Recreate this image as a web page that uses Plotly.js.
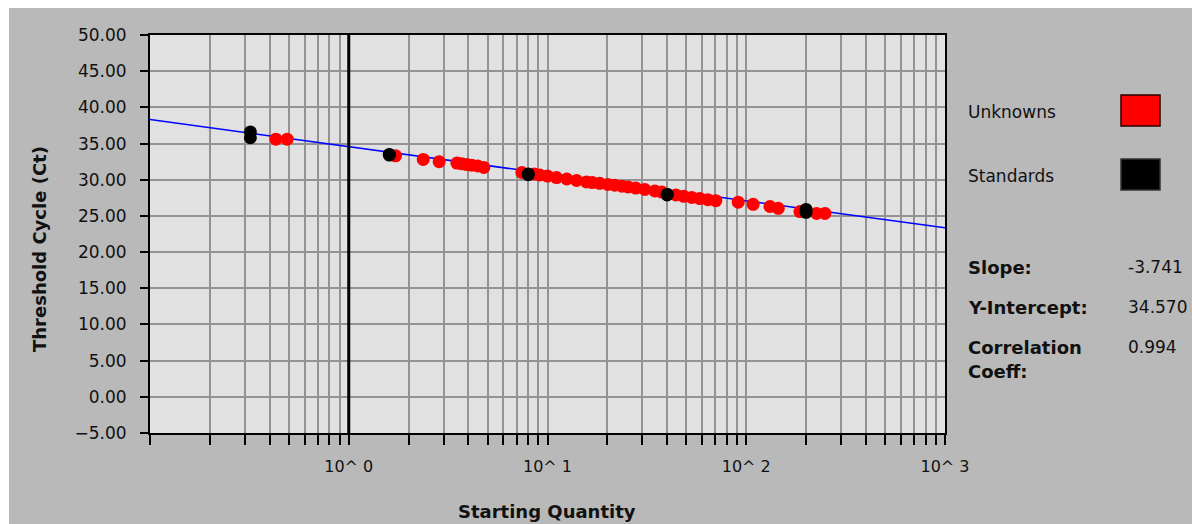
<!DOCTYPE html>
<html>
<head>
<meta charset="utf-8">
<script src="https://cdn.plot.ly/plotly-3.0.1.min.js"></script>
<style>
  html, body { margin: 0; padding: 0; background: #ffffff; width: 1192px; height: 524px; overflow: hidden; }
  #chart { position: absolute; left: 9px; top: 8px; width: 1183px; height: 516px; }
</style>
</head>
<body>
<div id="chart"></div>
<script>
// Standard curve: starting quantity vs threshold cycle
const standardQty = [0.32, 0.32, 1.6, 1.6, 8, 8, 40, 40, 200, 200];
const standardCt  = [36.6, 35.8, 33.5, 33.4, 30.8, 30.7, 28.0, 27.9, 25.9, 25.5];

const unknownQty = [0.43, 0.49, 1.72, 2.37, 2.85, 3.50, 3.70, 3.92, 4.16, 4.46, 4.78,
                    7.43, 8.6, 9.15, 10.0, 11.1, 12.5, 14.0, 15.7, 16.8, 18.3, 20.1,
                    21.8, 23.7, 25.4, 27.8, 30.9, 34.7, 37.6, 44.3, 48.5, 53.2, 58.4,
                    64.1, 70.3, 91.1, 108.3, 131.6, 144.9, 186.2, 225.8, 248.8];
const unknownCt  = [35.6, 35.6, 33.3, 32.8, 32.5, 32.3, 32.2, 32.1, 32.0, 31.9, 31.7,
                    31.0, 30.8, 30.65, 30.5, 30.3, 30.1, 29.9, 29.7, 29.6, 29.5, 29.35,
                    29.25, 29.1, 29.0, 28.85, 28.65, 28.45, 28.3, 27.9, 27.7, 27.55, 27.4,
                    27.25, 27.1, 26.9, 26.6, 26.3, 26.05, 25.6, 25.35, 25.35];

const slope = -3.741;
const intercept = 34.570;
const correlation = 0.994;

const xRange = [0.1, 1000];
const yRange = [-5, 50];
const decades = [-1, 0, 1, 2, 3];

// log-axis ticks at every 1..9 multiple, labelled only at whole decades >= 10^0
const tickVals = [], tickText = [];
decades.forEach(function (d) {
  const mults = d === 3 ? [1] : [1, 2, 3, 4, 5, 6, 7, 8, 9];
  mults.forEach(function (m) {
    tickVals.push(m * Math.pow(10, d));
    tickText.push(m === 1 && d >= 0 ? '10^ ' + d : '');
  });
});

const fitX = xRange.slice();
const fitY = fitX.map(function (q) { return intercept + slope * Math.log10(q); });

// plot box in page pixels, used to place the side panel
const box = { left: 150, right: 945, top: 35, bottom: 433 };
function px(x) { return (x - box.left) / (box.right - box.left); }
function py(y) { return (box.bottom - y) / (box.bottom - box.top); }

const FONT = 'DejaVu Sans';
const traces = [
  { x: fitX, y: fitY, mode: 'lines', line: { color: '#0000ff', width: 1.5 }, hoverinfo: 'skip' },
  { x: [1, 1], y: yRange, mode: 'lines', line: { color: '#000000', width: 3 }, hoverinfo: 'skip' },
  { x: unknownQty, y: unknownCt, mode: 'markers', name: 'Unknowns',
    marker: { color: '#ff0000', size: 13, line: { width: 0 } } },
  { x: standardQty, y: standardCt, mode: 'markers', name: 'Standards',
    marker: { color: '#000000', size: 13, line: { width: 0 } } }
];

function label(text, x, y, bold, size) {
  return {
    xref: 'paper', yref: 'paper', x: px(x), y: py(y), xanchor: 'left', yanchor: 'middle',
    text: bold ? '<b>' + text + '</b>' : text, showarrow: false,
    font: { family: FONT, size: size, color: '#111111' }
  };
}

const annotations = [
  label('Unknowns', 966, 112, false, 17),
  label('Standards', 966, 176, false, 17),
  label('Slope:', 966, 267, true, 18),
  label('Y-Intercept:', 966, 307, true, 18),
  label('Correlation', 966, 347, true, 18),
  label('Coeff:', 966, 371, true, 18),
  label(slope.toFixed(3), 1126, 267, false, 17),
  label(intercept.toFixed(3), 1126, 307, false, 17),
  label(correlation.toFixed(3), 1126, 347, false, 17),
  {
    xref: 'paper', yref: 'paper', x: px(39), y: py(249), xanchor: 'center', yanchor: 'middle',
    text: '<b>Threshold Cycle (Ct)</b>', textangle: -90, showarrow: false,
    font: { family: FONT, size: 18, color: '#111111' }
  },
  {
    xref: 'paper', yref: 'paper', x: px(547), y: py(511), xanchor: 'center', yanchor: 'middle',
    text: '<b>Starting Quantity</b>', showarrow: false,
    font: { family: FONT, size: 18, color: '#111111' }
  }
];

const shapes = [
  { type: 'rect', xref: 'paper', yref: 'paper', x0: px(1121), x1: px(1160), y0: py(126), y1: py(95),
    fillcolor: '#ff0000', line: { color: '#2a0000', width: 1.5 } },
  { type: 'rect', xref: 'paper', yref: 'paper', x0: px(1121), x1: px(1160), y0: py(190), y1: py(159),
    fillcolor: '#000000', line: { color: '#333333', width: 1.5 } }
];

const layout = {
  width: 1183, height: 516,
  margin: { l: 141, r: 247, t: 27, b: 91, pad: 0 },
  paper_bgcolor: '#b9b9b9',
  plot_bgcolor: '#e1e1e1',
  showlegend: false,
  font: { family: FONT, size: 16, color: '#111111' },
  xaxis: {
    type: 'log',
    range: [Math.log10(xRange[0]), Math.log10(xRange[1])],
    tickmode: 'array', tickvals: tickVals, ticktext: tickText,
    showgrid: true, gridcolor: '#939393', gridwidth: 2,
    ticks: 'outside', ticklen: 10, tickwidth: 2, tickcolor: '#000000',
    ticklabelstandoff: 8,
    tickfont: { family: FONT, size: 16, color: '#111111' },
    showline: true, linecolor: '#000000', linewidth: 2, mirror: true,
    zeroline: false, fixedrange: true
  },
  yaxis: {
    range: yRange, dtick: 5, tick0: 0, tickformat: '.2f',
    showgrid: true, gridcolor: '#939393', gridwidth: 2,
    ticks: 'outside', ticklen: 8, tickwidth: 2, tickcolor: '#000000',
    ticklabelstandoff: 10,
    tickfont: { family: FONT, size: 17, color: '#111111' },
    showline: true, linecolor: '#000000', linewidth: 2, mirror: true,
    zeroline: false, fixedrange: true
  },
  annotations: annotations,
  shapes: shapes
};

Plotly.newPlot('chart', traces, layout, { staticPlot: true, displayModeBar: false });
</script>
</body>
</html>
